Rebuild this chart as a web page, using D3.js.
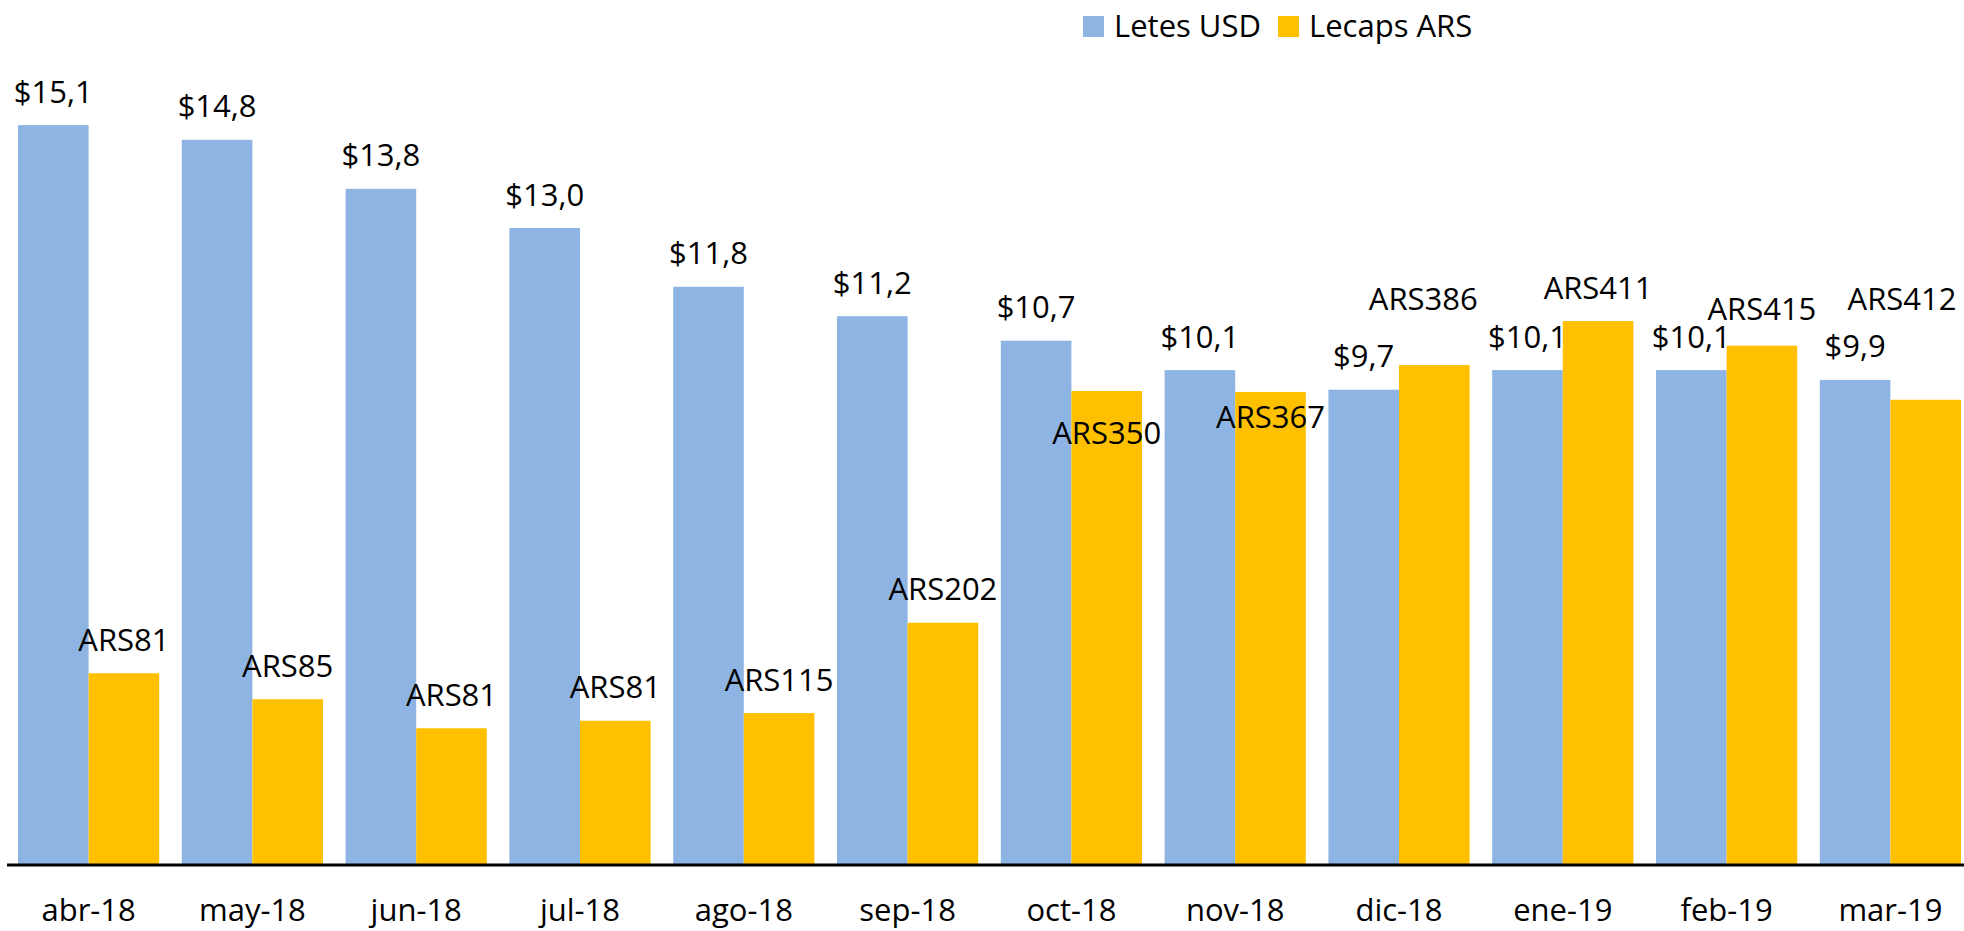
<!DOCTYPE html>
<html>
<head>
<meta charset="utf-8">
<script src="https://cdn.jsdelivr.net/npm/d3@7"></script>
<style>
    body { margin: 0; background: #fff; }
    text { font-family: "Open Sans", sans-serif; fill: #000; }
</style>
</head>
<body>
<div id="visualization"></div>
<script>
// Podatki
const months = ["abr-18", "may-18", "jun-18", "jul-18", "ago-18", "sep-18",
                "oct-18", "nov-18", "dic-18", "ene-19", "feb-19", "mar-19"];
const letesUsd = [15.1, 14.8, 13.8, 13.0, 11.8, 11.2, 10.7, 10.1, 9.7, 10.1, 10.1, 9.9];
const lecapsArs = [122.3, 105.7, 87.2, 92.0, 96.9, 154.5, 302.3, 301.7, 318.9, 346.9, 331.2, 296.7];
const lecapsLabels = ["ARS81", "ARS85", "ARS81", "ARS81", "ARS115", "ARS202",
                      "ARS350", "ARS367", "ARS386", "ARS411", "ARS415", "ARS412"];
const seriesNames = ["Letes USD", "Lecaps ARS"];

// premiki oznak ARS (ročno premaknjene v originalu)
const arsNudge = [[0, 0], [0, 0], [0, 0], [0, 0], [0, 0], [0, 0],
                  [0, 76], [0, 59], [-11, -32], [0, 0], [0, -3], [0, -67]];

const colors = ["#8EB4E3", "#FFC000"];

function drawChart() {
    const width = 1964;
    const height = 931;
    const baseY = 865;
    const topY = 81;
    const fontSize = "31px";

    const svg = d3.select("#visualization")
        .append("svg")
        .attr("width", width)
        .attr("height", height);

    // skale
    const x = d3.scaleBand()
        .domain(months)
        .range([6.7, 1972.3])
        .paddingInner(0.138)
        .paddingOuter(0.069);

    const sub = d3.scaleBand()
        .domain([0, 1])
        .range([0, x.bandwidth()]);

    const yL = d3.scaleLinear().domain([0, 16]).range([baseY, topY]);
    const yR = d3.scaleLinear().domain([0, 500]).range([baseY, topY]);

    // stolpci Letes
    svg.append("g")
        .selectAll("rect")
        .data(letesUsd)
        .enter()
        .append("rect")
        .attr("x", (d, i) => x(months[i]) + sub(0))
        .attr("y", d => yL(d))
        .attr("width", sub.bandwidth())
        .attr("height", d => baseY - yL(d))
        .style("fill", colors[0]);

    // stolpci Lecaps
    svg.append("g")
        .selectAll("rect")
        .data(lecapsArs)
        .enter()
        .append("rect")
        .attr("x", (d, i) => x(months[i]) + sub(1))
        .attr("y", d => yR(d))
        .attr("width", sub.bandwidth())
        .attr("height", d => baseY - yR(d))
        .style("fill", colors[1]);

    // os x
    const xAxis = svg.append("g")
        .attr("transform", `translate(0,${baseY})`)
        .call(d3.axisBottom(x).tickSize(0).tickSizeOuter(0));
    xAxis.select(".domain")
        .attr("d", `M7,0H${width}`)
        .attr("stroke", "#000")
        .attr("stroke-width", 3);
    xAxis.selectAll("text")
        .attr("y", 56)
        .attr("dy", null)
        .style("font-size", fontSize)
        .style("font-family", "'Open Sans', sans-serif")
        .attr("fill", "#000");

    // oznake Letes
    svg.append("g")
        .selectAll("text")
        .data(letesUsd)
        .enter()
        .append("text")
        .attr("x", (d, i) => x(months[i]) + sub(0) + sub.bandwidth() / 2)
        .attr("y", d => yL(d) - 22.5)
        .style("text-anchor", "middle")
        .style("font-size", fontSize)
        .text(d => "$" + d.toFixed(1).replace(".", ","));

    // oznake Lecaps
    const labelW = 112;
    svg.append("g")
        .selectAll("text")
        .data(lecapsArs)
        .enter()
        .append("text")
        .attr("x", (d, i) => {
            let cx = x(months[i]) + sub(1) + sub.bandwidth() / 2 + arsNudge[i][0];
            return Math.min(cx, 1958 - labelW / 2);
        })
        .attr("y", (d, i) => yR(d) - 22.5 + arsNudge[i][1])
        .style("text-anchor", "middle")
        .style("font-size", fontSize)
        .text((d, i) => lecapsLabels[i]);

    // legenda
    const legend = svg.append("g").attr("transform", "translate(1083,16)");
    const offsets = [0, 195];
    seriesNames.forEach((name, i) => {
        legend.append("rect")
            .attr("x", offsets[i])
            .attr("y", 0)
            .attr("width", 21)
            .attr("height", 21)
            .style("fill", colors[i]);
        legend.append("text")
            .attr("x", offsets[i] + 31)
            .attr("y", 20.5)
            .style("font-size", fontSize)
            .text(name);
    });
}

drawChart();
</script>
</body>
</html>
